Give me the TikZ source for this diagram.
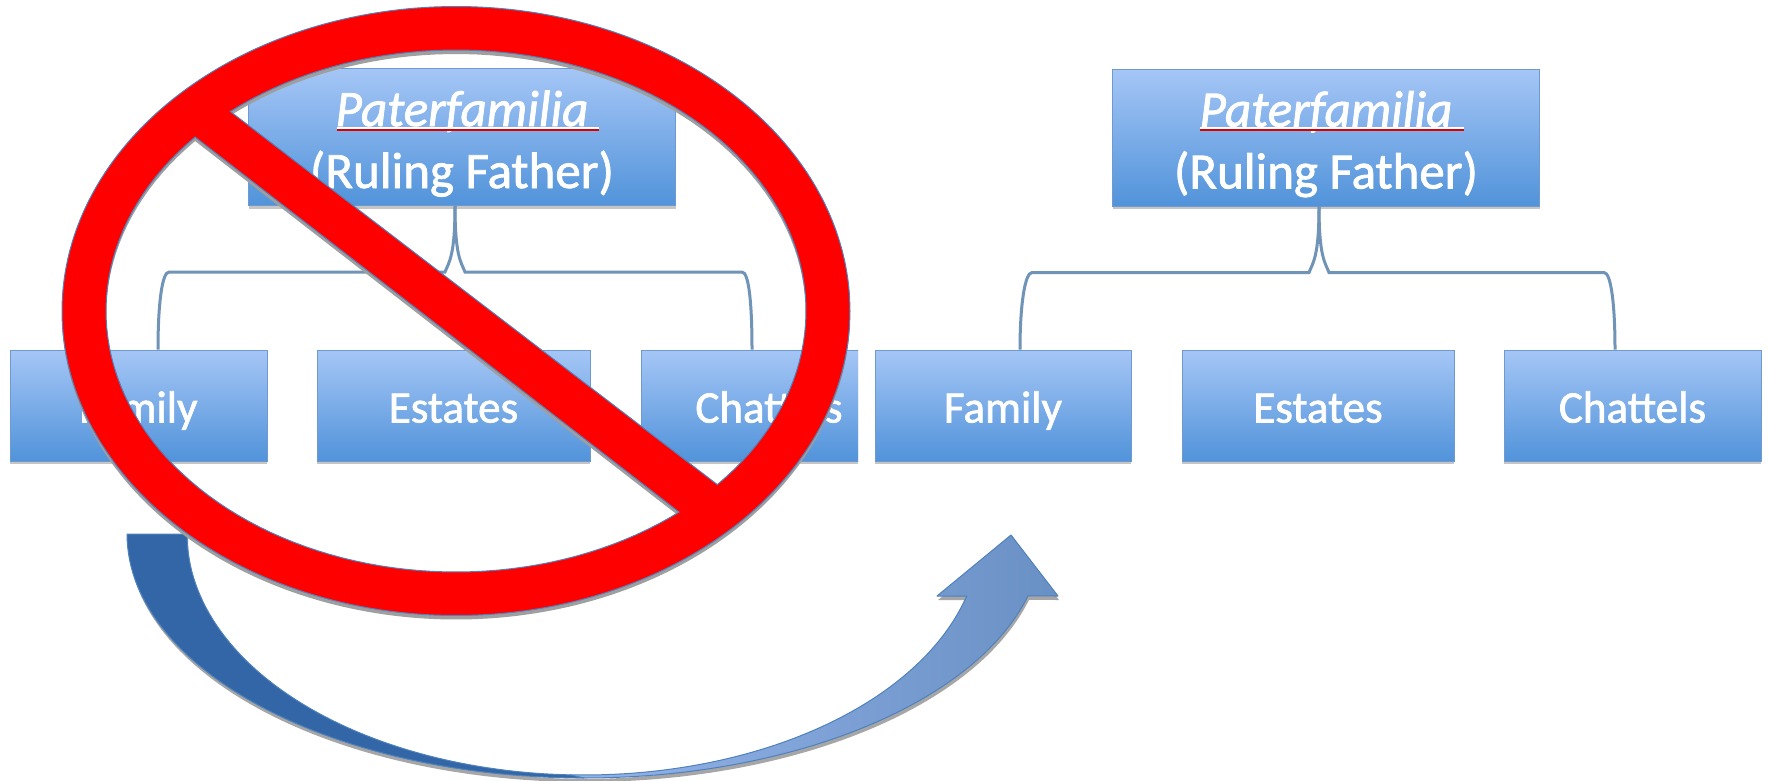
\documentclass[tikz,border=0pt]{standalone}
\usepackage{fontspec}
\setmainfont{Carlito}
\usetikzlibrary{shadows}
\definecolor{boxT}{HTML}{A5C6F6}
\definecolor{boxB}{HTML}{5193DA}
\definecolor{boxE}{HTML}{6E9AD0}
\definecolor{connC}{HTML}{7094B8}
\definecolor{ringE}{HTML}{4F81BD}
\definecolor{arrD}{HTML}{3366A6}
\definecolor{arrL}{HTML}{6990C4}
\definecolor{arrH}{HTML}{94B4EA}
\tikzset{
  orgbox/.style={draw=boxE,line width=1pt,top color=boxT,bottom color=boxB,text=white,
    inner sep=0pt,align=center,
    general shadow={shadow xshift=0pt,shadow yshift=-3pt,fill=gray,fill opacity=.45,draw=none}},
  topbox/.style={orgbox,minimum width=427pt,minimum height=137pt,
    font=\fontsize{51}{62}\selectfont\addfontfeatures{FakeBold=1.5}},
  lowbox/.style={orgbox,minimum height=111pt,
    font=\fontsize{45}{50}\selectfont\addfontfeatures{FakeBold=1.5},
    execute at begin node={\rule[-10pt]{0pt}{54pt}}},
  conn/.style={draw=connC,line width=3pt},
  redul/.style={draw=red!85!black,line width=2pt},
  whul/.style={draw=white,line width=1.4pt},
  ringsh/.style={fill=gray!75,even odd rule},
  ringf/.style={fill=red,draw=ringE,line width=1pt,even odd rule},
  arrout/.style={draw=ringE,line width=1pt,line join=round},
}
\newcommand{\ringpath}{%
  plot[smooth,samples=120,domain=0:360] ({456+394*cos(\x)},{311+304.5*sin(\x)}) -- cycle
  plot[samples=80,domain=-130.15:41.7] ({456+350*cos(\x)},{311+261*sin(\x)}) -- cycle
  plot[samples=80,domain=50.4:221.8] ({456+350*cos(\x)},{311+261*sin(\x)}) -- cycle}
\newcommand{\lightpath}{%
  plot[samples=60,domain=91:14.7] ({584+459*cos(\x)},{534+244*sin(\x)})
  -- (1058,596) -- (1011,535) -- (937,596) -- (967,596)
  -- plot[samples=60,domain=15.8:92] ({584+396*cos(\x)},{534+241*sin(\x)}) -- cycle}
\newcommand{\darkpath}{%
  plot[samples=60,domain=180:90] ({584+457*cos(\x)},{534+244*sin(\x)})
  -- plot[samples=60,domain=92:180] ({584+397*cos(\x)},{534+241*sin(\x)}) -- cycle}
\newcommand{\ptitle}{\rule{0pt}{53pt}\textit{Paterfamilia}\\\rule[-13pt]{0pt}{13pt}(Ruling Father)}
\begin{document}
\begin{tikzpicture}[x=1pt,y=-1pt]
\useasboundingbox[fill=white] (0,0) rectangle (1770,780);
% left chart, cropped on the right
\begin{scope}
  \clip (0,0) rectangle (858,780);
  \node[topbox] (tl) at (462,137) {\ptitle};
  \node[lowbox,minimum width=257pt] (lf) at (138.5,405.5) {Family};
  \node[lowbox,minimum width=273pt] (le) at (453.5,405.5) {Estates};
  \node[lowbox,minimum width=256pt] (lc) at (769,405.5) {Chattels};
\end{scope}
\draw[redul] (337,130) -- (599,130);
\draw[whul] (337,128) -- (599,128);
\draw[conn] ([xshift=-7pt]tl.south) .. controls +(0,50) and +(4,-10) .. ++(-10,66) -- ++(-276,0)
  .. controls +(-7,0) and +(0,-45) .. ([xshift=19.5pt]lf.north);
\draw[conn] ([xshift=-7pt]tl.south) .. controls +(0,50) and +(-4,-10) .. ++(10,66) -- ++(277,0)
  .. controls +(7,0) and +(0,-45) .. ([xshift=-17pt]lc.north);
% right chart
\node[topbox] (tr) at (1326,137.5) {\ptitle};
\node[lowbox,minimum width=256pt] (rf) at (1003,405.5) {Family};
\node[lowbox,minimum width=272pt] (re) at (1318,405.5) {Estates};
\node[lowbox,minimum width=257pt] (rc) at (1632.5,405.5) {Chattels};
\draw[redul] (1200,130) -- (1464,130);
\draw[whul] (1200,128) -- (1464,128);
\draw[conn] ([xshift=-7pt]tr.south) .. controls +(0,50) and +(4,-10) .. ++(-10,66) -- ++(-277,0)
  .. controls +(-7,0) and +(0,-45) .. ([xshift=17pt]rf.north);
\draw[conn] ([xshift=-7pt]tr.south) .. controls +(0,50) and +(-4,-10) .. ++(10,66) -- ++(275,0)
  .. controls +(7,0) and +(0,-45) .. ([xshift=-17.5pt]rc.north);
% curved arrow
\begin{scope}[shift={(1,4)}]
  \fill[gray!70] \lightpath;
  \fill[gray!70] \darkpath;
\end{scope}
\path[arrout,left color=arrH,middle color=arrL,right color=arrL] \lightpath;
\path[arrout,fill=arrD] \darkpath;
% prohibition sign
\begin{scope}[shift={(0,4)}]
  \fill[ringsh] \ringpath;
\end{scope}
\path[ringf] \ringpath;
\end{tikzpicture}
\end{document}
